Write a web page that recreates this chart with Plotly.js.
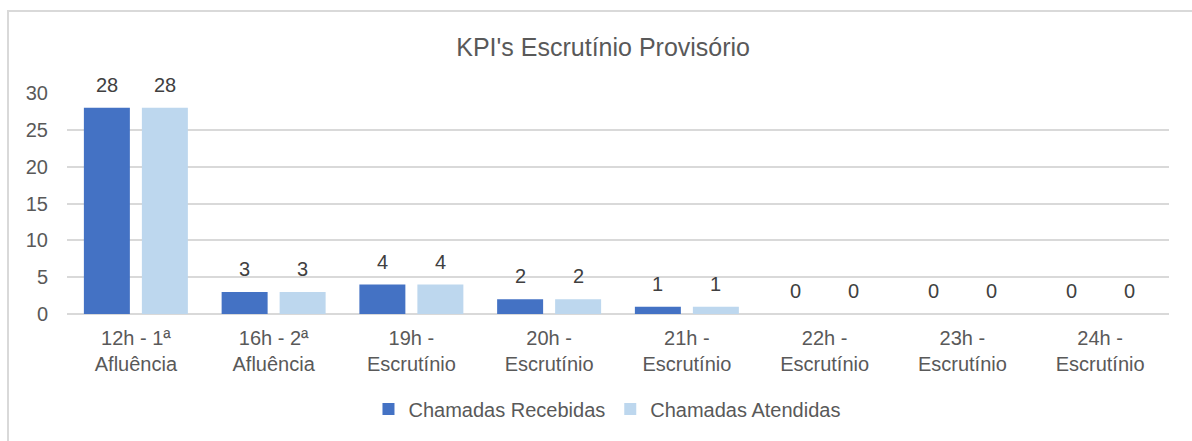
<!DOCTYPE html>
<html>
<head>
<meta charset="utf-8">
<script src="https://cdn.plot.ly/plotly-3.0.1.min.js"></script>
<style>
  html, body { margin: 0; padding: 0; background: #ffffff; }
  #wrap { position: relative; width: 1192px; height: 441px; overflow: hidden; }
  #chart { position: absolute; left: 0; top: 0; width: 1192px; height: 441px; }
  #frame { position: absolute; left: 7px; top: 10px; width: 1300px; height: 600px;
           border: 2px solid #d9d9d9; box-sizing: border-box; pointer-events: none; }
</style>
</head>
<body>
<div id="wrap">
  <div id="chart"></div>
  <div id="frame"></div>
</div>
<script>
const categories = [
  "12h - 1ª<br>Afluência",
  "16h - 2ª<br>Afluência",
  "19h -<br>Escrutínio",
  "20h -<br>Escrutínio",
  "21h -<br>Escrutínio",
  "22h -<br>Escrutínio",
  "23h -<br>Escrutínio",
  "24h -<br>Escrutínio"
];
const recebidas = [28, 3, 4, 2, 1, 0, 0, 0];
const atendidas = [28, 3, 4, 2, 1, 0, 0, 0];
const seriesNames = ["Chamadas Recebidas", "Chamadas Atendidas"];
const seriesColors = ["#4472C4", "#BDD7EE"];

const FONT = "Liberation Sans, Arial, sans-serif";

const traces = [
  { type: "bar", name: seriesNames[0], x: categories, y: recebidas,
    marker: { color: seriesColors[0] }, hoverinfo: "x+y" },
  { type: "bar", name: seriesNames[1], x: categories, y: atendidas,
    marker: { color: seriesColors[1] }, hoverinfo: "x+y" }
];

const annotations = [];
[recebidas, atendidas].forEach((vals, s) => {
  vals.forEach((v, i) => {
    annotations.push({
      x: categories[i], y: v, xref: "x", yref: "y",
      text: String(v), showarrow: false,
      xshift: s === 0 ? -29 : 29, yshift: 23, yanchor: "middle",
      font: { family: FONT, size: 20, color: "#404040" }
    });
  });
});

const layout = {
  width: 1192, height: 441,
  margin: { l: 67, r: 23, t: 93, b: 127 },
  paper_bgcolor: "rgba(0,0,0,0)",
  plot_bgcolor: "rgba(0,0,0,0)",
  font: { family: FONT, size: 20, color: "#595959" },
  title: { text: "KPI's Escrutínio Provisório", xref: "container", x: 0.506, xanchor: "center",
           yref: "container", y: 1 - 47/441, yanchor: "middle",
           font: { family: FONT, size: 25, color: "#595959" } },
  barmode: "group",
  bargap: 0.158,
  bargroupgap: 0.207,
  xaxis: { type: "category", showgrid: false, zeroline: false, showline: false,
           ticks: "", ticklabelstandoff: 10,
           tickfont: { family: FONT, size: 20, color: "#595959" } },
  yaxis: { range: [0, 30], dtick: 5, showgrid: true, gridcolor: "#d9d9d9", gridwidth: 2,
           zeroline: true, zerolinecolor: "#d9d9d9", zerolinewidth: 2, showline: false,
           ticks: "", ticklabelstandoff: 18,
           tickfont: { family: FONT, size: 20, color: "#595959" } },
  legend: { orientation: "h", x: 0.49, xanchor: "center", y: -0.43, yanchor: "middle",
            font: { family: FONT, size: 20, color: "#595959" }, traceorder: "normal" },
  annotations: annotations,
  showlegend: true
};

Plotly.newPlot("chart", traces, layout, { displayModeBar: false, staticPlot: true });
</script>
</body>
</html>
